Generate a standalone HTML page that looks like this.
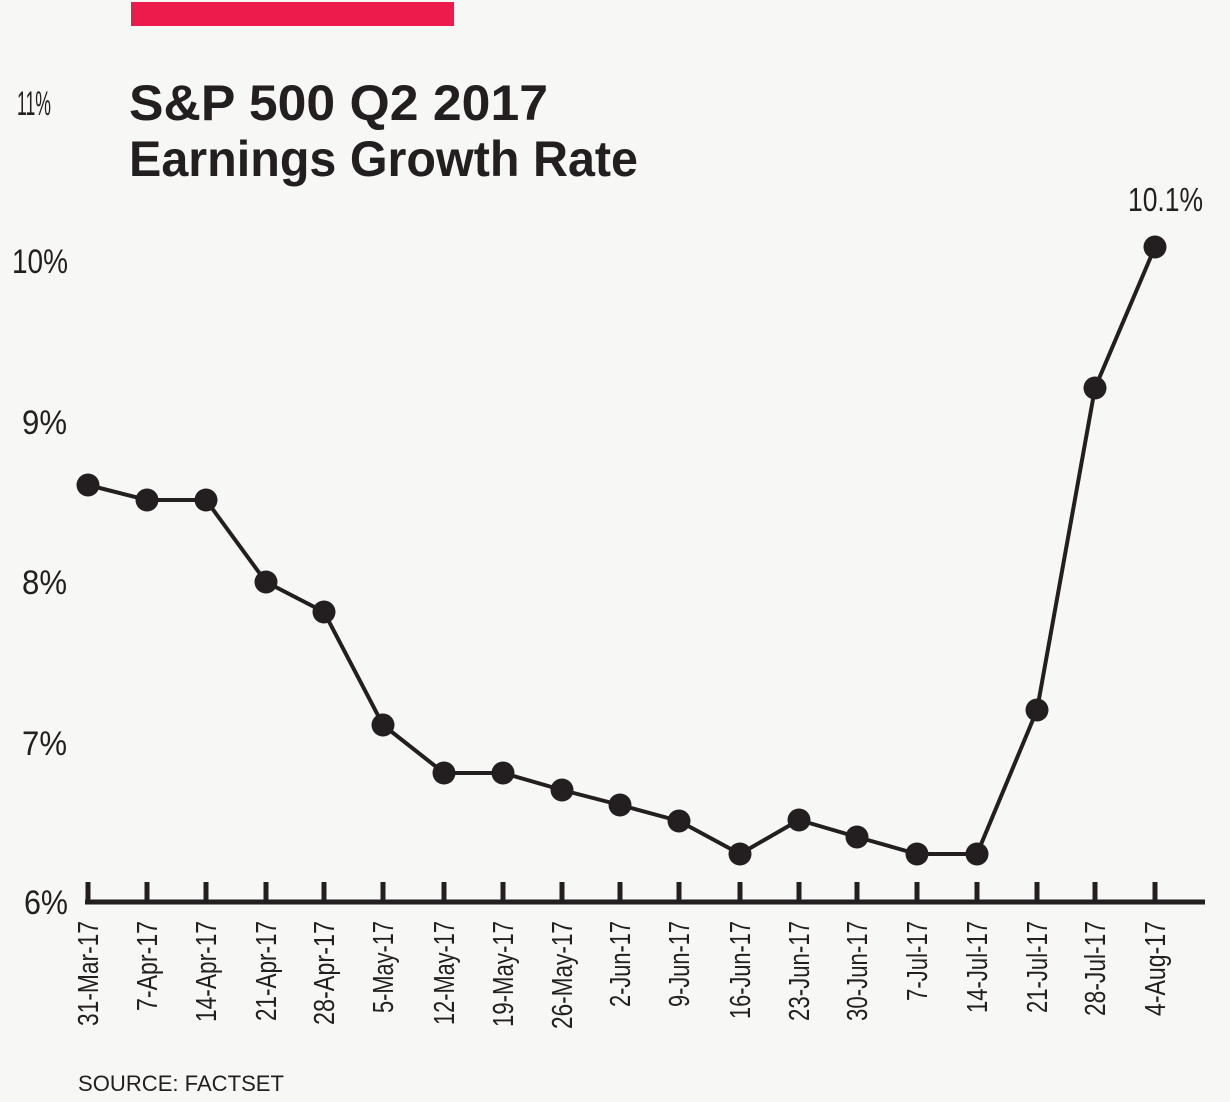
<!DOCTYPE html>
<html><head><meta charset="utf-8"><style>
html,body{margin:0;padding:0;background:#f7f7f5;}
svg{display:block;}
text{font-family:"Liberation Sans",sans-serif;fill:#231f20;}
</style></head><body>
<svg width="1230" height="1102" viewBox="0 0 1230 1102" xmlns="http://www.w3.org/2000/svg">
<rect width="1230" height="1102" fill="#f7f7f5"/>
<rect x="131" y="2" width="323" height="24" fill="#ec1b4b"/>
<text x="129" y="120" font-size="50" font-weight="bold" textLength="419" lengthAdjust="spacingAndGlyphs">S&amp;P 500 Q2 2017</text>
<text x="129" y="176" font-size="50" font-weight="bold" textLength="509" lengthAdjust="spacingAndGlyphs">Earnings Growth Rate</text>
<g font-size="34">
<text x="17" y="115" textLength="34" lengthAdjust="spacingAndGlyphs">11%</text>
<text x="12" y="273" textLength="56" lengthAdjust="spacingAndGlyphs">10%</text>
<text x="22" y="434" textLength="45" lengthAdjust="spacingAndGlyphs">9%</text>
<text x="22" y="594" textLength="45" lengthAdjust="spacingAndGlyphs">8%</text>
<text x="22" y="755" textLength="45" lengthAdjust="spacingAndGlyphs">7%</text>
<text x="24" y="914" textLength="44" lengthAdjust="spacingAndGlyphs">6%</text>
</g>
<text x="1128" y="211" font-size="33" textLength="75" lengthAdjust="spacingAndGlyphs">10.1%</text>
<g stroke="#231f20" stroke-width="5">
<line x1="85" y1="902" x2="1205" y2="902"/>
<path d="M88 882V902M147 882V902M206 882V902M266 882V902M324 882V902M383 882V902M444 882V902M503 882V902M562 882V902M620 882V902M679 882V902M740 882V902M799 882V902M857 882V902M917 882V902M977 882V902M1037 882V902M1095 882V902M1155 882V902" fill="none"/>
</g>
<polyline fill="none" stroke="#231f20" stroke-width="4" stroke-linejoin="round" points="88,485 147,500 206,500 266,582 324,612 383,725 444,773 503,773 562,790 620,805 679,821 740,854 799,820 857,837 917,854 977,854 1037,710 1095,388 1155,247"/>
<g fill="#231f20">
<circle cx="88" cy="485" r="11.5"/><circle cx="147" cy="500" r="11.5"/><circle cx="206" cy="500" r="11.5"/><circle cx="266" cy="582" r="11.5"/><circle cx="324" cy="612" r="11.5"/><circle cx="383" cy="725" r="11.5"/><circle cx="444" cy="773" r="11.5"/><circle cx="503" cy="773" r="11.5"/><circle cx="562" cy="790" r="11.5"/><circle cx="620" cy="805" r="11.5"/><circle cx="679" cy="821" r="11.5"/><circle cx="740" cy="854" r="11.5"/><circle cx="799" cy="820" r="11.5"/><circle cx="857" cy="837" r="11.5"/><circle cx="917" cy="854" r="11.5"/><circle cx="977" cy="854" r="11.5"/><circle cx="1037" cy="710" r="11.5"/><circle cx="1095" cy="388" r="11.5"/><circle cx="1155" cy="247" r="11.5"/>
</g>
<g font-size="29" text-anchor="end">
<text transform="translate(98,921) rotate(-90)" textLength="105" lengthAdjust="spacingAndGlyphs">31-Mar-17</text>
<text transform="translate(157,921) rotate(-90)" textLength="90" lengthAdjust="spacingAndGlyphs">7-Apr-17</text>
<text transform="translate(216,921) rotate(-90)" textLength="101" lengthAdjust="spacingAndGlyphs">14-Apr-17</text>
<text transform="translate(276,921) rotate(-90)" textLength="100" lengthAdjust="spacingAndGlyphs">21-Apr-17</text>
<text transform="translate(334,921) rotate(-90)" textLength="104" lengthAdjust="spacingAndGlyphs">28-Apr-17</text>
<text transform="translate(393,921) rotate(-90)" textLength="92" lengthAdjust="spacingAndGlyphs">5-May-17</text>
<text transform="translate(454,921) rotate(-90)" textLength="104" lengthAdjust="spacingAndGlyphs">12-May-17</text>
<text transform="translate(513,921) rotate(-90)" textLength="106" lengthAdjust="spacingAndGlyphs">19-May-17</text>
<text transform="translate(572,921) rotate(-90)" textLength="108" lengthAdjust="spacingAndGlyphs">26-May-17</text>
<text transform="translate(630,921) rotate(-90)" textLength="86" lengthAdjust="spacingAndGlyphs">2-Jun-17</text>
<text transform="translate(689,921) rotate(-90)" textLength="86" lengthAdjust="spacingAndGlyphs">9-Jun-17</text>
<text transform="translate(750,921) rotate(-90)" textLength="98" lengthAdjust="spacingAndGlyphs">16-Jun-17</text>
<text transform="translate(809,921) rotate(-90)" textLength="100" lengthAdjust="spacingAndGlyphs">23-Jun-17</text>
<text transform="translate(867,921) rotate(-90)" textLength="100" lengthAdjust="spacingAndGlyphs">30-Jun-17</text>
<text transform="translate(927,921) rotate(-90)" textLength="80" lengthAdjust="spacingAndGlyphs">7-Jul-17</text>
<text transform="translate(987,921) rotate(-90)" textLength="92" lengthAdjust="spacingAndGlyphs">14-Jul-17</text>
<text transform="translate(1047,921) rotate(-90)" textLength="92" lengthAdjust="spacingAndGlyphs">21-Jul-17</text>
<text transform="translate(1105,921) rotate(-90)" textLength="95" lengthAdjust="spacingAndGlyphs">28-Jul-17</text>
<text transform="translate(1165,921) rotate(-90)" textLength="95" lengthAdjust="spacingAndGlyphs">4-Aug-17</text>
</g>
<text x="78" y="1091" font-size="22" textLength="206" lengthAdjust="spacingAndGlyphs">SOURCE: FACTSET</text>
</svg>
</body></html>
